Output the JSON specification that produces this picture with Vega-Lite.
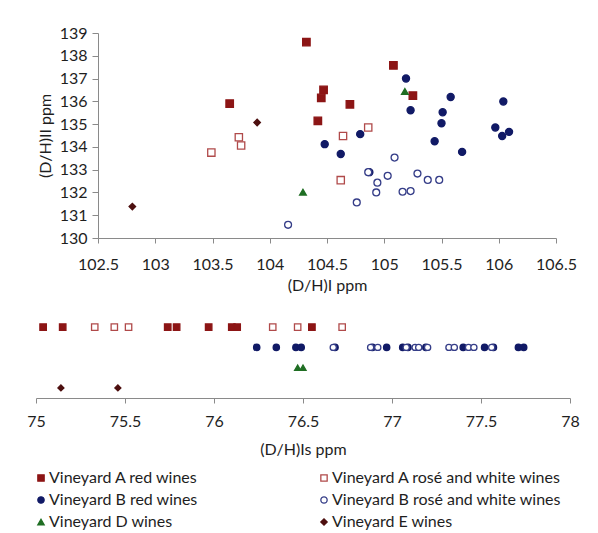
{
  "$schema": "https://vega.github.io/schema/vega-lite/v6.json",
  "padding": {"left": 26, "top": 25, "right": 5, "bottom": 0},
  "background": "white",
  "spacing": 24,
  "config": {
    "font": "Lato",
    "view": {"stroke": null},
    "axis": {
      "grid": false,
      "domainColor": "#8a8a8a",
      "tickColor": "#8a8a8a",
      "labelFont": "Lato",
      "labelFontSize": 16,
      "labelColor": "#1e1e1e",
      "labelFlush": false,
      "labelOverlap": false,
      "labelBound": false,
      "titleFont": "Lato",
      "titleFontSize": 16,
      "titleFontWeight": "normal",
      "titleColor": "#1e1e1e",
      "tickSize": 5
    },
    "legend": {
      "labelFont": "Lato",
      "labelFontSize": 16,
      "labelColor": "#1e1e1e",
      "labelLimit": 400
    }
  },
  "datasets": {
    "top": [
      {"group": "Vineyard A red wines", "dhI": 103.65, "dhII": 135.9},
      {"group": "Vineyard A red wines", "dhI": 104.32, "dhII": 138.6},
      {"group": "Vineyard A red wines", "dhI": 104.47, "dhII": 136.5},
      {"group": "Vineyard A red wines", "dhI": 104.45, "dhII": 136.15},
      {"group": "Vineyard A red wines", "dhI": 104.70, "dhII": 135.87},
      {"group": "Vineyard A red wines", "dhI": 104.42, "dhII": 135.14},
      {"group": "Vineyard A red wines", "dhI": 105.08, "dhII": 137.58},
      {"group": "Vineyard A red wines", "dhI": 105.25, "dhII": 136.25},
      {"group": "Vineyard A rosé and white wines", "dhI": 103.49, "dhII": 133.75},
      {"group": "Vineyard A rosé and white wines", "dhI": 103.73, "dhII": 134.42},
      {"group": "Vineyard A rosé and white wines", "dhI": 103.75, "dhII": 134.06},
      {"group": "Vineyard A rosé and white wines", "dhI": 104.64, "dhII": 134.48},
      {"group": "Vineyard A rosé and white wines", "dhI": 104.86, "dhII": 134.85},
      {"group": "Vineyard A rosé and white wines", "dhI": 104.62, "dhII": 132.54},
      {"group": "Vineyard B red wines", "dhI": 105.19, "dhII": 137.0},
      {"group": "Vineyard B red wines", "dhI": 105.23, "dhII": 135.61},
      {"group": "Vineyard B red wines", "dhI": 105.58, "dhII": 136.19},
      {"group": "Vineyard B red wines", "dhI": 105.51, "dhII": 135.52},
      {"group": "Vineyard B red wines", "dhI": 105.50, "dhII": 135.04},
      {"group": "Vineyard B red wines", "dhI": 105.44, "dhII": 134.25},
      {"group": "Vineyard B red wines", "dhI": 105.68, "dhII": 133.78},
      {"group": "Vineyard B red wines", "dhI": 106.04, "dhII": 135.99},
      {"group": "Vineyard B red wines", "dhI": 105.97, "dhII": 134.85},
      {"group": "Vineyard B red wines", "dhI": 106.03, "dhII": 134.48},
      {"group": "Vineyard B red wines", "dhI": 106.09, "dhII": 134.66},
      {"group": "Vineyard B red wines", "dhI": 104.79, "dhII": 134.56},
      {"group": "Vineyard B red wines", "dhI": 104.48, "dhII": 134.12},
      {"group": "Vineyard B red wines", "dhI": 104.62, "dhII": 133.69},
      {"group": "Vineyard B red wines", "dhI": 104.87, "dhII": 132.89},
      {"group": "Vineyard B rosé and white wines", "dhI": 104.16, "dhII": 130.58},
      {"group": "Vineyard B rosé and white wines", "dhI": 104.76, "dhII": 131.56},
      {"group": "Vineyard B rosé and white wines", "dhI": 104.93, "dhII": 132.0},
      {"group": "Vineyard B rosé and white wines", "dhI": 104.94, "dhII": 132.43},
      {"group": "Vineyard B rosé and white wines", "dhI": 105.03, "dhII": 132.73},
      {"group": "Vineyard B rosé and white wines", "dhI": 105.09, "dhII": 133.53},
      {"group": "Vineyard B rosé and white wines", "dhI": 104.86, "dhII": 132.89},
      {"group": "Vineyard B rosé and white wines", "dhI": 105.16, "dhII": 132.03},
      {"group": "Vineyard B rosé and white wines", "dhI": 105.23, "dhII": 132.06},
      {"group": "Vineyard B rosé and white wines", "dhI": 105.29, "dhII": 132.83},
      {"group": "Vineyard B rosé and white wines", "dhI": 105.38, "dhII": 132.55},
      {"group": "Vineyard B rosé and white wines", "dhI": 105.48, "dhII": 132.55},
      {"group": "Vineyard D wines", "dhI": 104.29, "dhII": 132.01},
      {"group": "Vineyard D wines", "dhI": 105.18, "dhII": 136.43},
      {"group": "Vineyard E wines", "dhI": 102.80, "dhII": 131.38},
      {"group": "Vineyard E wines", "dhI": 103.89, "dhII": 135.07}
    ],
    "bottom": [
      {"group": "Vineyard A red wines", "vineyard": "A", "dhIs": 75.04},
      {"group": "Vineyard A red wines", "vineyard": "A", "dhIs": 75.15},
      {"group": "Vineyard A red wines", "vineyard": "A", "dhIs": 75.74},
      {"group": "Vineyard A red wines", "vineyard": "A", "dhIs": 75.79},
      {"group": "Vineyard A red wines", "vineyard": "A", "dhIs": 75.97},
      {"group": "Vineyard A red wines", "vineyard": "A", "dhIs": 76.10},
      {"group": "Vineyard A red wines", "vineyard": "A", "dhIs": 76.13},
      {"group": "Vineyard A red wines", "vineyard": "A", "dhIs": 76.55},
      {"group": "Vineyard A rosé and white wines", "vineyard": "A", "dhIs": 75.33},
      {"group": "Vineyard A rosé and white wines", "vineyard": "A", "dhIs": 75.44},
      {"group": "Vineyard A rosé and white wines", "vineyard": "A", "dhIs": 75.52},
      {"group": "Vineyard A rosé and white wines", "vineyard": "A", "dhIs": 76.33},
      {"group": "Vineyard A rosé and white wines", "vineyard": "A", "dhIs": 76.47},
      {"group": "Vineyard A rosé and white wines", "vineyard": "A", "dhIs": 76.72},
      {"group": "Vineyard B red wines", "vineyard": "B", "dhIs": 76.24},
      {"group": "Vineyard B red wines", "vineyard": "B", "dhIs": 76.35},
      {"group": "Vineyard B red wines", "vineyard": "B", "dhIs": 76.46},
      {"group": "Vineyard B red wines", "vineyard": "B", "dhIs": 76.49},
      {"group": "Vineyard B red wines", "vineyard": "B", "dhIs": 76.68},
      {"group": "Vineyard B red wines", "vineyard": "B", "dhIs": 76.89},
      {"group": "Vineyard B red wines", "vineyard": "B", "dhIs": 76.97},
      {"group": "Vineyard B red wines", "vineyard": "B", "dhIs": 77.06},
      {"group": "Vineyard B red wines", "vineyard": "B", "dhIs": 77.09},
      {"group": "Vineyard B red wines", "vineyard": "B", "dhIs": 77.19},
      {"group": "Vineyard B red wines", "vineyard": "B", "dhIs": 77.40},
      {"group": "Vineyard B red wines", "vineyard": "B", "dhIs": 77.52},
      {"group": "Vineyard B red wines", "vineyard": "B", "dhIs": 77.57},
      {"group": "Vineyard B red wines", "vineyard": "B", "dhIs": 77.71},
      {"group": "Vineyard B red wines", "vineyard": "B", "dhIs": 77.74},
      {"group": "Vineyard B rosé and white wines", "vineyard": "B", "dhIs": 76.67},
      {"group": "Vineyard B rosé and white wines", "vineyard": "B", "dhIs": 76.88},
      {"group": "Vineyard B rosé and white wines", "vineyard": "B", "dhIs": 76.92},
      {"group": "Vineyard B rosé and white wines", "vineyard": "B", "dhIs": 77.08},
      {"group": "Vineyard B rosé and white wines", "vineyard": "B", "dhIs": 77.13},
      {"group": "Vineyard B rosé and white wines", "vineyard": "B", "dhIs": 77.15},
      {"group": "Vineyard B rosé and white wines", "vineyard": "B", "dhIs": 77.20},
      {"group": "Vineyard B rosé and white wines", "vineyard": "B", "dhIs": 77.32},
      {"group": "Vineyard B rosé and white wines", "vineyard": "B", "dhIs": 77.35},
      {"group": "Vineyard B rosé and white wines", "vineyard": "B", "dhIs": 77.43},
      {"group": "Vineyard B rosé and white wines", "vineyard": "B", "dhIs": 77.46},
      {"group": "Vineyard B rosé and white wines", "vineyard": "B", "dhIs": 77.56},
      {"group": "Vineyard D wines", "vineyard": "D", "dhIs": 76.47},
      {"group": "Vineyard D wines", "vineyard": "D", "dhIs": 76.50},
      {"group": "Vineyard E wines", "vineyard": "E", "dhIs": 75.14},
      {"group": "Vineyard E wines", "vineyard": "E", "dhIs": 75.46}
    ]
  },
  "vconcat": [
    {
      "spacing": 0,
      "hconcat": [
        {
          "width": 1,
          "height": 205,
          "data": {"values": []},
          "mark": {"type": "point"},
          "encoding": {}
        },
        {
          "width": 458,
          "height": 205,
          "data": {"name": "top"},
          "mark": {"type": "point", "filled": true, "strokeWidth": 1.3, "opacity": 1},
          "encoding": {
            "x": {
              "field": "dhI", "type": "quantitative",
              "scale": {"domain": [102.5, 106.5], "nice": false, "zero": false},
              "axis": {"title": "(D/H)I ppm", "values": [102.5, 103, 103.5, 104, 104.5, 105, 105.5, 106, 106.5], "format": "~g", "labelPadding": 13, "titlePadding": 5}
            },
            "y": {
              "field": "dhII", "type": "quantitative",
              "scale": {"domain": [130, 139], "nice": false, "zero": false},
              "axis": {"title": "(D/H)II ppm", "values": [130, 131, 132, 133, 134, 135, 136, 137, 138, 139], "format": "~g", "labelPadding": 5, "tickSize": 6, "titlePadding": 6}
            },
            "shape": {"field": "group", "type": "nominal", "scale": {"domain": ["Vineyard A red wines", "Vineyard A rosé and white wines", "Vineyard B red wines", "Vineyard B rosé and white wines", "Vineyard D wines", "Vineyard E wines"], "range": ["square", "square", "circle", "circle", "triangle-up", "diamond"]}, "legend": {"title": null, "orient": "none", "legendX": -3, "legendY": 437, "direction": "horizontal", "columns": 2, "columnPadding": 117, "rowPadding": 6, "symbolSize": 40, "symbolStrokeWidth": 1.3, "labelOffset": 0}},
            "fill": {"field": "group", "type": "nominal", "scale": {"domain": ["Vineyard A red wines", "Vineyard A rosé and white wines", "Vineyard B red wines", "Vineyard B rosé and white wines", "Vineyard D wines", "Vineyard E wines"], "range": ["#8c1515", "#ffffff", "#111a66", "#ffffff", "#1f6e23", "#4d0f0f"]}, "legend": {"title": null, "orient": "none", "legendX": -3, "legendY": 437, "direction": "horizontal", "columns": 2, "columnPadding": 117, "rowPadding": 6, "symbolSize": 40, "symbolStrokeWidth": 1.3, "labelOffset": 0}},
            "stroke": {"field": "group", "type": "nominal", "scale": {"domain": ["Vineyard A red wines", "Vineyard A rosé and white wines", "Vineyard B red wines", "Vineyard B rosé and white wines", "Vineyard D wines", "Vineyard E wines"], "range": ["#8c1515", "#b04a4a", "#111a66", "#353d88", "#1f6e23", "#4d0f0f"]}, "legend": {"title": null, "orient": "none", "legendX": -3, "legendY": 437, "direction": "horizontal", "columns": 2, "columnPadding": 117, "rowPadding": 6, "symbolSize": 40, "symbolStrokeWidth": 1.3, "labelOffset": 0}},
            "size": {"field": "group", "type": "nominal", "scale": {"domain": ["Vineyard A red wines", "Vineyard A rosé and white wines", "Vineyard B red wines", "Vineyard B rosé and white wines", "Vineyard D wines", "Vineyard E wines"], "range": [56, 42, 40, 36, 80, 90]}, "legend": null}
          }
        }
      ]
    },
    {
      "width": 534,
      "height": 81,
      "data": {"name": "bottom"},
      "mark": {"type": "point", "filled": true, "strokeWidth": 1.3, "opacity": 1},
      "encoding": {
        "x": {
          "field": "dhIs", "type": "quantitative",
          "scale": {"domain": [75, 78], "nice": false, "zero": false},
          "axis": {"title": "(D/H)Is ppm", "values": [75, 75.5, 76, 76.5, 77, 77.5, 78], "format": "~g", "labelPadding": 10, "titlePadding": 12}
        },
        "y": {
          "field": "vineyard", "type": "nominal",
          "scale": {"type": "point", "domain": ["A", "B", "D", "E"], "padding": 0.5},
          "axis": null
        },
        "shape": {"field": "group", "type": "nominal", "scale": {"domain": ["Vineyard A red wines", "Vineyard A rosé and white wines", "Vineyard B red wines", "Vineyard B rosé and white wines", "Vineyard D wines", "Vineyard E wines"], "range": ["square", "square", "circle", "circle", "triangle-up", "diamond"]}, "legend": {"title": null, "orient": "none", "legendX": -3, "legendY": 437, "direction": "horizontal", "columns": 2, "columnPadding": 117, "rowPadding": 6, "symbolSize": 40, "symbolStrokeWidth": 1.3, "labelOffset": 0}},
        "fill": {"field": "group", "type": "nominal", "scale": {"domain": ["Vineyard A red wines", "Vineyard A rosé and white wines", "Vineyard B red wines", "Vineyard B rosé and white wines", "Vineyard D wines", "Vineyard E wines"], "range": ["#8c1515", "#ffffff", "#111a66", "#ffffff", "#1f6e23", "#4d0f0f"]}, "legend": {"title": null, "orient": "none", "legendX": -3, "legendY": 437, "direction": "horizontal", "columns": 2, "columnPadding": 117, "rowPadding": 6, "symbolSize": 40, "symbolStrokeWidth": 1.3, "labelOffset": 0}},
        "stroke": {"field": "group", "type": "nominal", "scale": {"domain": ["Vineyard A red wines", "Vineyard A rosé and white wines", "Vineyard B red wines", "Vineyard B rosé and white wines", "Vineyard D wines", "Vineyard E wines"], "range": ["#8c1515", "#b04a4a", "#111a66", "#353d88", "#1f6e23", "#4d0f0f"]}, "legend": {"title": null, "orient": "none", "legendX": -3, "legendY": 437, "direction": "horizontal", "columns": 2, "columnPadding": 117, "rowPadding": 6, "symbolSize": 40, "symbolStrokeWidth": 1.3, "labelOffset": 0}},
        "size": {"field": "group", "type": "nominal", "scale": {"domain": ["Vineyard A red wines", "Vineyard A rosé and white wines", "Vineyard B red wines", "Vineyard B rosé and white wines", "Vineyard D wines", "Vineyard E wines"], "range": [42, 36, 32, 30, 64, 70]}, "legend": null}
      }
    }
  ],
  "resolve": {"scale": {"size": "independent"}}
}
